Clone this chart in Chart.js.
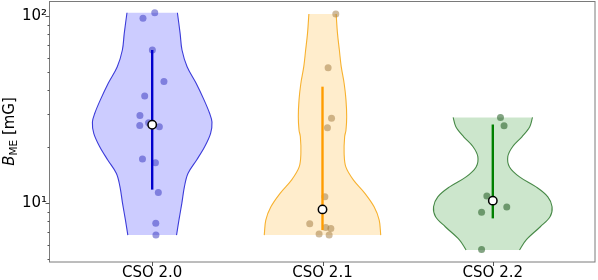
<!DOCTYPE html>
<html>
<head>
<meta charset="utf-8">
<script src="https://cdn.jsdelivr.net/npm/chart.js@4.4.1/dist/chart.umd.min.js"></script>
<style>
  html, body { margin: 0; padding: 0; background: #fff; }
</style>
</head>
<body>
<canvas id="violinChart" width="598" height="280"></canvas>
<script>
// categories and tick labels
const categories = ['CSO 2.0', 'CSO 2.1', 'CSO 2.2'];
const yTickValues = [5, 6, 7, 8, 9, 10, 20, 30, 40, 50, 60, 70, 80, 90, 100];
const yTickLabels = { 10: '10\u00b9', 100: '10\u00b2' };

// individual measurements (mG) and their horizontal jitter
const cso20Values = [104.1, 97.2, 65.8, 44.7, 37.3, 29.4, 26.9, 26.0, 25.6, 17.2, 16.4, 11.4, 7.79, 6.74];
const cso20Jitter = [0.015, -0.054, 0.001, 0.069, -0.044, -0.072, -0.021, -0.073, 0.042, -0.057, 0.019, 0.036, 0.021, 0.022];
const cso21Values = [102.5, 52.9, 28.4, 25.3, 10.8, 7.75, 7.41, 7.32, 6.83, 6.74];
const cso21Jitter = [0.078, 0.033, 0.053, 0.029, 0.014, -0.075, 0.019, 0.049, -0.020, 0.039];
const cso22Values = [28.7, 25.9, 10.9, 9.52, 8.92, 5.65];
const cso22Jitter = [0.045, 0.066, -0.035, 0.082, -0.066, -0.066];

// medians and whisker ranges
const medians = [26.2, 9.25, 10.3];
const whiskerLow = [11.8, 7.17, 8.28];
const whiskerHigh = [65.8, 41.9, 26.3];

// violin outlines: value levels and half widths (in category units)
const cso20Levels = [104.1, 80.8, 65.8, 53.6, 43.7, 35.5, 30.2, 27.1, 23.6, 20.0, 17.0, 14.4, 12.2, 9.96, 8.11, 6.74];
const cso20Widths = [0.148, 0.164, 0.175, 0.205, 0.258, 0.305, 0.337, 0.351, 0.343, 0.308, 0.261, 0.210, 0.189, 0.174, 0.157, 0.143];
const cso21Levels = [102.5, 80.8, 65.8, 53.6, 43.7, 35.5, 28.9, 24.6, 22.6, 18.4, 15.6, 13.3, 11.27, 9.55, 8.11, 6.74];
const cso21Widths = [0.080, 0.088, 0.099, 0.110, 0.127, 0.138, 0.142, 0.138, 0.130, 0.127, 0.137, 0.181, 0.249, 0.303, 0.333, 0.342];
const cso22Levels = [28.7, 25.6, 22.6, 20.0, 17.7, 15.6, 13.8, 12.2, 10.8, 9.55, 8.45, 7.47, 6.34, 5.61];
const cso22Widths = [0.233, 0.217, 0.171, 0.116, 0.088, 0.098, 0.157, 0.254, 0.323, 0.348, 0.336, 0.279, 0.195, 0.157];

const groups = [
    { levels: cso20Levels, widths: cso20Widths, values: cso20Values, jitter: cso20Jitter,
      fill: 'rgba(0, 0, 255, 0.2)', edge: '#3b3bd9', dot: 'rgba(50, 50, 190, 0.5)', line: '#0000cd' },
    { levels: cso21Levels, widths: cso21Widths, values: cso21Values, jitter: cso21Jitter,
      fill: 'rgba(255, 165, 0, 0.2)', edge: 'rgba(245, 160, 0, 0.8)', dot: 'rgba(160, 120, 60, 0.5)', line: '#ff9c00' },
    { levels: cso22Levels, widths: cso22Widths, values: cso22Values, jitter: cso22Jitter,
      fill: 'rgba(0, 128, 0, 0.2)', edge: 'rgba(30, 110, 30, 0.8)', dot: 'rgba(30, 90, 30, 0.55)', line: '#008000' }
];

const TENSION = 0.35;
const datasets = [];

groups.forEach(function(g, i) {
    const left = g.levels.map((v, k) => ({ x: i - g.widths[k], y: v }));
    const right = g.levels.map((v, k) => ({ x: i + g.widths[k], y: v })).reverse();
    const n = left.length;

    // filled body (corner points doubled so the flat ends stay straight)
    datasets.push({
        data: [...left, left[n - 1], right[0], ...right],
        showLine: true, fill: 'shape', tension: TENSION,
        backgroundColor: g.fill, borderWidth: 0, pointRadius: 0, order: 4
    });
    // side edges only
    [left, right].forEach(function(side) {
        datasets.push({
            data: side, showLine: true, fill: false, tension: TENSION,
            borderColor: g.edge, borderWidth: 1.1, pointRadius: 0, order: 3
        });
    });
    // points
    datasets.push({
        data: g.values.map((v, k) => ({ x: i + g.jitter[k], y: v })),
        pointRadius: 3.5, pointBackgroundColor: g.dot, pointBorderWidth: 0, order: 2
    });
    // whisker
    datasets.push({
        data: [{ x: i, y: whiskerLow[i] }, { x: i, y: whiskerHigh[i] }],
        showLine: true, borderColor: g.line, borderWidth: 2.4, pointRadius: 0, order: 1
    });
    // median
    datasets.push({
        data: [{ x: i, y: medians[i] }],
        pointRadius: 4.2, pointBackgroundColor: '#fff', pointBorderColor: '#000',
        pointBorderWidth: 1.5, order: 0
    });
});

// frame, tick marks and y axis title
const decorPlugin = {
    id: 'decor',
    afterDraw(chart) {
        const ctx = chart.ctx;
        const a = chart.chartArea;
        const xs = chart.scales.x, ys = chart.scales.y;
        ctx.save();
        ctx.strokeStyle = '#7a7a7a';
        ctx.lineWidth = 1;
        ctx.strokeRect(Math.round(a.left) - 0.5, Math.round(a.top) + 0.5,
            Math.round(a.right - a.left) + 0.5, Math.round(a.bottom - a.top) - 0.5);

        ctx.strokeStyle = '#555';
        ctx.beginPath();
        ys.ticks.forEach(function(t) {
            const py = Math.round(ys.getPixelForValue(t.value)) + 0.5;
            const len = yTickLabels[t.value] ? 4 : 2;
            ctx.moveTo(a.left - 0.5, py);
            ctx.lineTo(a.left - 0.5 - len, py);
        });
        xs.ticks.forEach(function(t) {
            const px = Math.round(xs.getPixelForValue(t.value)) + 0.5;
            ctx.moveTo(px, a.bottom);
            ctx.lineTo(px, a.bottom + 4);
        });
        ctx.stroke();

        // B_ME [mG]
        ctx.translate(14, (a.top + a.bottom) / 2);
        ctx.rotate(-Math.PI / 2);
        ctx.fillStyle = '#000';
        ctx.textBaseline = 'alphabetic';
        const main = '15px "DejaVu Sans"';
        const ital = 'oblique 15px "DejaVu Sans"';
        const sub = '10.5px "DejaVu Sans"';
        ctx.font = ital; const wB = ctx.measureText('B').width;
        ctx.font = sub; const wS = ctx.measureText('ME').width;
        ctx.font = main; const wU = ctx.measureText(' [mG]').width;
        let x0 = -(wB + wS + wU) / 2;
        ctx.font = ital; ctx.fillText('B', x0, 0); x0 += wB;
        ctx.font = sub; ctx.fillText('ME', x0, 3); x0 += wS;
        ctx.font = main; ctx.fillText(' [mG]', x0, 0);
        ctx.restore();
    }
};

Chart.defaults.font.family = '"DejaVu Sans"';

new Chart(document.getElementById('violinChart').getContext('2d'), {
    type: 'scatter',
    data: { datasets: datasets },
    options: {
        responsive: false,
        animation: false,
        events: [],
        devicePixelRatio: 1,
        layout: { autoPadding: false, padding: { left: 0, right: 3, top: 1, bottom: 0 } },
        plugins: { legend: { display: false }, tooltip: { enabled: false } },
        scales: {
            x: {
                type: 'linear', min: -0.6, max: 2.6,
                afterBuildTicks: s => { s.ticks = [0, 1, 2].map(v => ({ value: v })); },
                afterFit: s => { s.height = 18; s.paddingLeft = 0; s.paddingRight = 0; },
                ticks: { callback: v => categories[v], color: '#000', font: { size: 15 }, padding: 2, maxRotation: 0, autoSkip: false },
                grid: { display: false, drawTicks: false },
                border: { display: false }
            },
            y: {
                type: 'logarithmic', min: 4.84, max: 120.3,
                afterBuildTicks: s => { s.ticks = yTickValues.map(v => ({ value: v })); },
                afterFit: s => { s.width = 50; s.paddingTop = 0; s.paddingBottom = 0; },
                ticks: { callback: v => yTickLabels[v] || '', color: '#000', font: { size: 15 }, padding: 3, autoSkip: false },
                grid: { display: false, drawTicks: false },
                border: { display: false }
            }
        }
    },
    plugins: [decorPlugin]
});
</script>
</body>
</html>
